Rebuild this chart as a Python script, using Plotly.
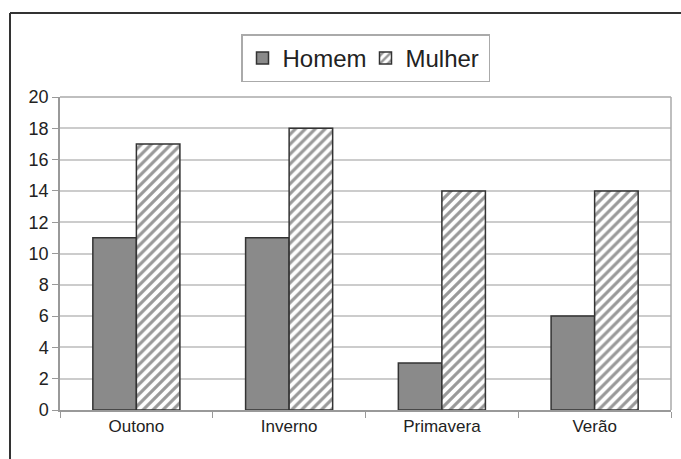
import plotly.graph_objects as go

categories = ["Outono", "Inverno", "Primavera", "Verão"]
homem = [11, 11, 3, 6]
mulher = [17, 18, 14, 14]
y_ticks = [0, 2, 4, 6, 8, 10, 12, 14, 16, 18, 20]

fig = go.Figure()
fig.add_trace(go.Bar(
    x=categories, y=homem, name="Homem",
    marker=dict(color="#8a8a8a", line=dict(color="#333333", width=1.5)),
))
fig.add_trace(go.Bar(
    x=categories, y=mulher, name="Mulher",
    marker=dict(color="white", line=dict(color="#333333", width=1.5),
                pattern=dict(shape="/", fgcolor="#333333", bgcolor="white",
                             size=7, solidity=0.45)),
))

fig.update_layout(
    width=681, height=459,
    margin=dict(l=60, r=10, t=97, b=49),
    paper_bgcolor="white", plot_bgcolor="white",
    barmode="group", bargap=0.43, bargroupgap=0,
    font=dict(family="Liberation Sans, Arial, sans-serif", color="#222222"),
    showlegend=True,
    legend=dict(orientation="h", x=0.5, xanchor="center", y=1.2, yanchor="top",
                bordercolor="#aaaaaa", borderwidth=1.5,
                font=dict(size=24, color="#222222"), itemwidth=30,
                entrywidth=78, entrywidthmode="pixels",
                tracegroupgap=0),
    xaxis=dict(showgrid=False, showline=True, linecolor="#999999", linewidth=1.5,
               ticks="outside", ticklen=6, tickcolor="#999999",
               tickson="boundaries", tickfont=dict(size=17), mirror=False),
    yaxis=dict(range=[0, 20], tickvals=y_ticks, showgrid=True, gridcolor="#cccccc",
               gridwidth=1.5, showline=True, linecolor="#999999", linewidth=1.5,
               ticks="outside", ticklen=6, tickcolor="#999999",
               tickfont=dict(size=18), zeroline=False),
    shapes=[
        dict(type="line", xref="paper", yref="paper", x0=1, x1=1, y0=0, y1=1,
             line=dict(color="#aaaaaa", width=1.5)),
        dict(type="line", xref="paper", yref="paper", x0=0, x1=1, y0=1, y1=1,
             line=dict(color="#aaaaaa", width=1.5)),
        dict(type="line", xref="paper", yref="paper", x0=-50/611, x1=(681-60)/611,
             y0=(410-13)/313, y1=(410-13)/313, line=dict(color="#333333", width=2)),
        dict(type="line", xref="paper", yref="paper", x0=-50/611, x1=-50/611,
             y0=-49/313, y1=(410-13)/313, line=dict(color="#333333", width=2)),
    ],
)

fig.write_html("out.html")
